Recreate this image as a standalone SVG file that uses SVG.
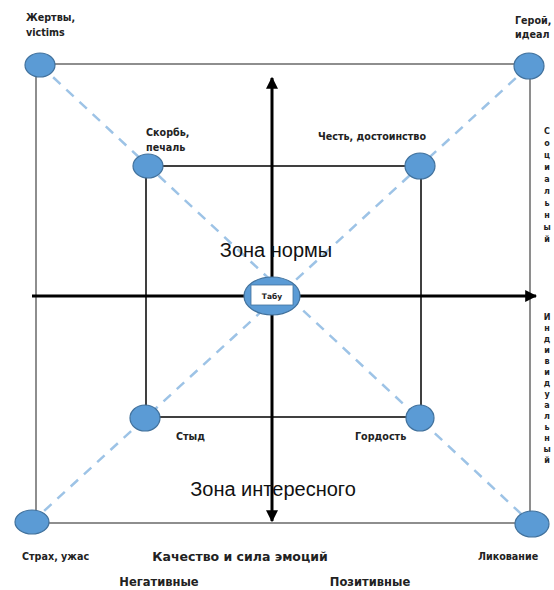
<svg xmlns="http://www.w3.org/2000/svg" width="554" height="590" viewBox="0 0 554 590">
<style>
.frame{stroke:#444;stroke-width:1.2;fill:none}
.inner{stroke:#111;stroke-width:1.6;fill:none}
.axis{stroke:#000;stroke-width:3;fill:none}
.diag{stroke:#9dc3e6;stroke-width:2.5;stroke-dasharray:10 8;fill:none}
.node{fill:#5b9bd5;stroke:#41719c;stroke-width:1.2}
.lbl{font-family:"DejaVu Sans","Liberation Sans",sans-serif;font-size:9.6px;font-weight:bold;fill:#222}
.big{font-family:"Liberation Sans",Arial,sans-serif;font-size:20px;fill:#111}
.mid{font-family:"DejaVu Sans","Liberation Sans",sans-serif;font-size:12.5px;font-weight:bold;fill:#222}
.vert{font-family:"DejaVu Sans","Liberation Sans",sans-serif;font-size:8px;font-weight:bold;fill:#222}
</style>
<defs>
<marker id="ah" viewBox="0 0 10 10" refX="9" refY="5" markerWidth="4" markerHeight="4" orient="auto" markerUnits="strokeWidth">
<path d="M0,0 L10,5 L0,10 z" fill="#000"/>
</marker>
</defs>
<rect width="554" height="590" fill="#fff"/>
<g id="connectors">
<rect class="frame" x="36" y="64" width="494" height="459"/>
<rect class="inner" x="146" y="166" width="275" height="251"/>
<line class="diag" x1="40" y1="65" x2="532" y2="524"/>
<line class="diag" x1="529" y1="66" x2="32" y2="522"/>
<line class="axis" x1="32" y1="296" x2="536" y2="296" marker-end="url(#ah)"/>
<line class="axis" x1="272" y1="296" x2="272" y2="78" marker-end="url(#ah)"/>
<line class="axis" x1="272" y1="296" x2="272" y2="521" marker-end="url(#ah)"/>
</g>
<g id="n-victims"><ellipse class="node" cx="40" cy="65" rx="15" ry="12"/><text class="lbl" x="26" y="21">Жертвы,</text><text class="lbl" x="26" y="36">victims</text></g>
<g id="n-hero"><ellipse class="node" cx="529" cy="66" rx="15" ry="13"/><text class="lbl" x="515" y="24">Герой,</text><text class="lbl" x="515" y="38">идеал</text></g>
<g id="n-grief"><ellipse class="node" cx="148" cy="166" rx="15" ry="12"/><text class="lbl" x="146" y="136">Скорбь,</text><text class="lbl" x="146" y="151">печаль</text></g>
<g id="n-honor"><ellipse class="node" cx="420" cy="166" rx="15" ry="13"/><text class="lbl" x="318" y="140">Честь, достоинство</text></g>
<g id="n-shame"><ellipse class="node" cx="145" cy="418" rx="15" ry="13"/><text class="lbl" x="176" y="440">Стыд</text></g>
<g id="n-pride"><ellipse class="node" cx="420" cy="418" rx="14" ry="13"/><text class="lbl" x="355" y="440">Гордость</text></g>
<g id="n-fear"><ellipse class="node" cx="32" cy="522" rx="17" ry="12"/><text class="lbl" x="22" y="560">Страх, ужас</text></g>
<g id="n-joy"><ellipse class="node" cx="532" cy="524" rx="17" ry="13"/><text class="lbl" x="478" y="560">Ликование</text></g>
<g id="n-taboo"><ellipse class="node" cx="272" cy="296" rx="28" ry="19"/><rect x="251" y="285" width="42" height="20" fill="#fff" stroke="#41719c" stroke-width="0.8"/><text class="lbl" x="272" y="299" text-anchor="middle" style="font-size:7.5px">Табу</text></g>
<g id="zones">
<text class="big" x="276" y="257" text-anchor="middle">Зона нормы</text>
<text class="big" x="273" y="496" text-anchor="middle">Зона интересного</text>
<text class="mid" x="240" y="561" text-anchor="middle">Качество и сила эмоций</text>
<text class="mid" x="159" y="586" text-anchor="middle" style="font-size:11.5px">Негативные</text>
<text class="mid" x="370" y="586" text-anchor="middle" style="font-size:11.5px">Позитивные</text>
</g>
<g id="side-social">
<text class="vert" x="547" y="134" text-anchor="middle">С</text>
<text class="vert" x="547" y="146" text-anchor="middle">о</text>
<text class="vert" x="547" y="158" text-anchor="middle">ц</text>
<text class="vert" x="547" y="170" text-anchor="middle">и</text>
<text class="vert" x="547" y="182" text-anchor="middle">а</text>
<text class="vert" x="547" y="194" text-anchor="middle">л</text>
<text class="vert" x="547" y="206" text-anchor="middle">ь</text>
<text class="vert" x="547" y="218" text-anchor="middle">н</text>
<text class="vert" x="547" y="230" text-anchor="middle">ы</text>
<text class="vert" x="547" y="242" text-anchor="middle">й</text>
</g>
<g id="side-individual">
<text class="vert" x="547" y="320" text-anchor="middle">И</text>
<text class="vert" x="547" y="331" text-anchor="middle">н</text>
<text class="vert" x="547" y="342" text-anchor="middle">д</text>
<text class="vert" x="547" y="353" text-anchor="middle">и</text>
<text class="vert" x="547" y="364" text-anchor="middle">в</text>
<text class="vert" x="547" y="375" text-anchor="middle">и</text>
<text class="vert" x="547" y="386" text-anchor="middle">д</text>
<text class="vert" x="547" y="397" text-anchor="middle">у</text>
<text class="vert" x="547" y="408" text-anchor="middle">а</text>
<text class="vert" x="547" y="419" text-anchor="middle">л</text>
<text class="vert" x="547" y="430" text-anchor="middle">ь</text>
<text class="vert" x="547" y="441" text-anchor="middle">н</text>
<text class="vert" x="547" y="452" text-anchor="middle">ы</text>
<text class="vert" x="547" y="463" text-anchor="middle">й</text>
</g>
</svg>
